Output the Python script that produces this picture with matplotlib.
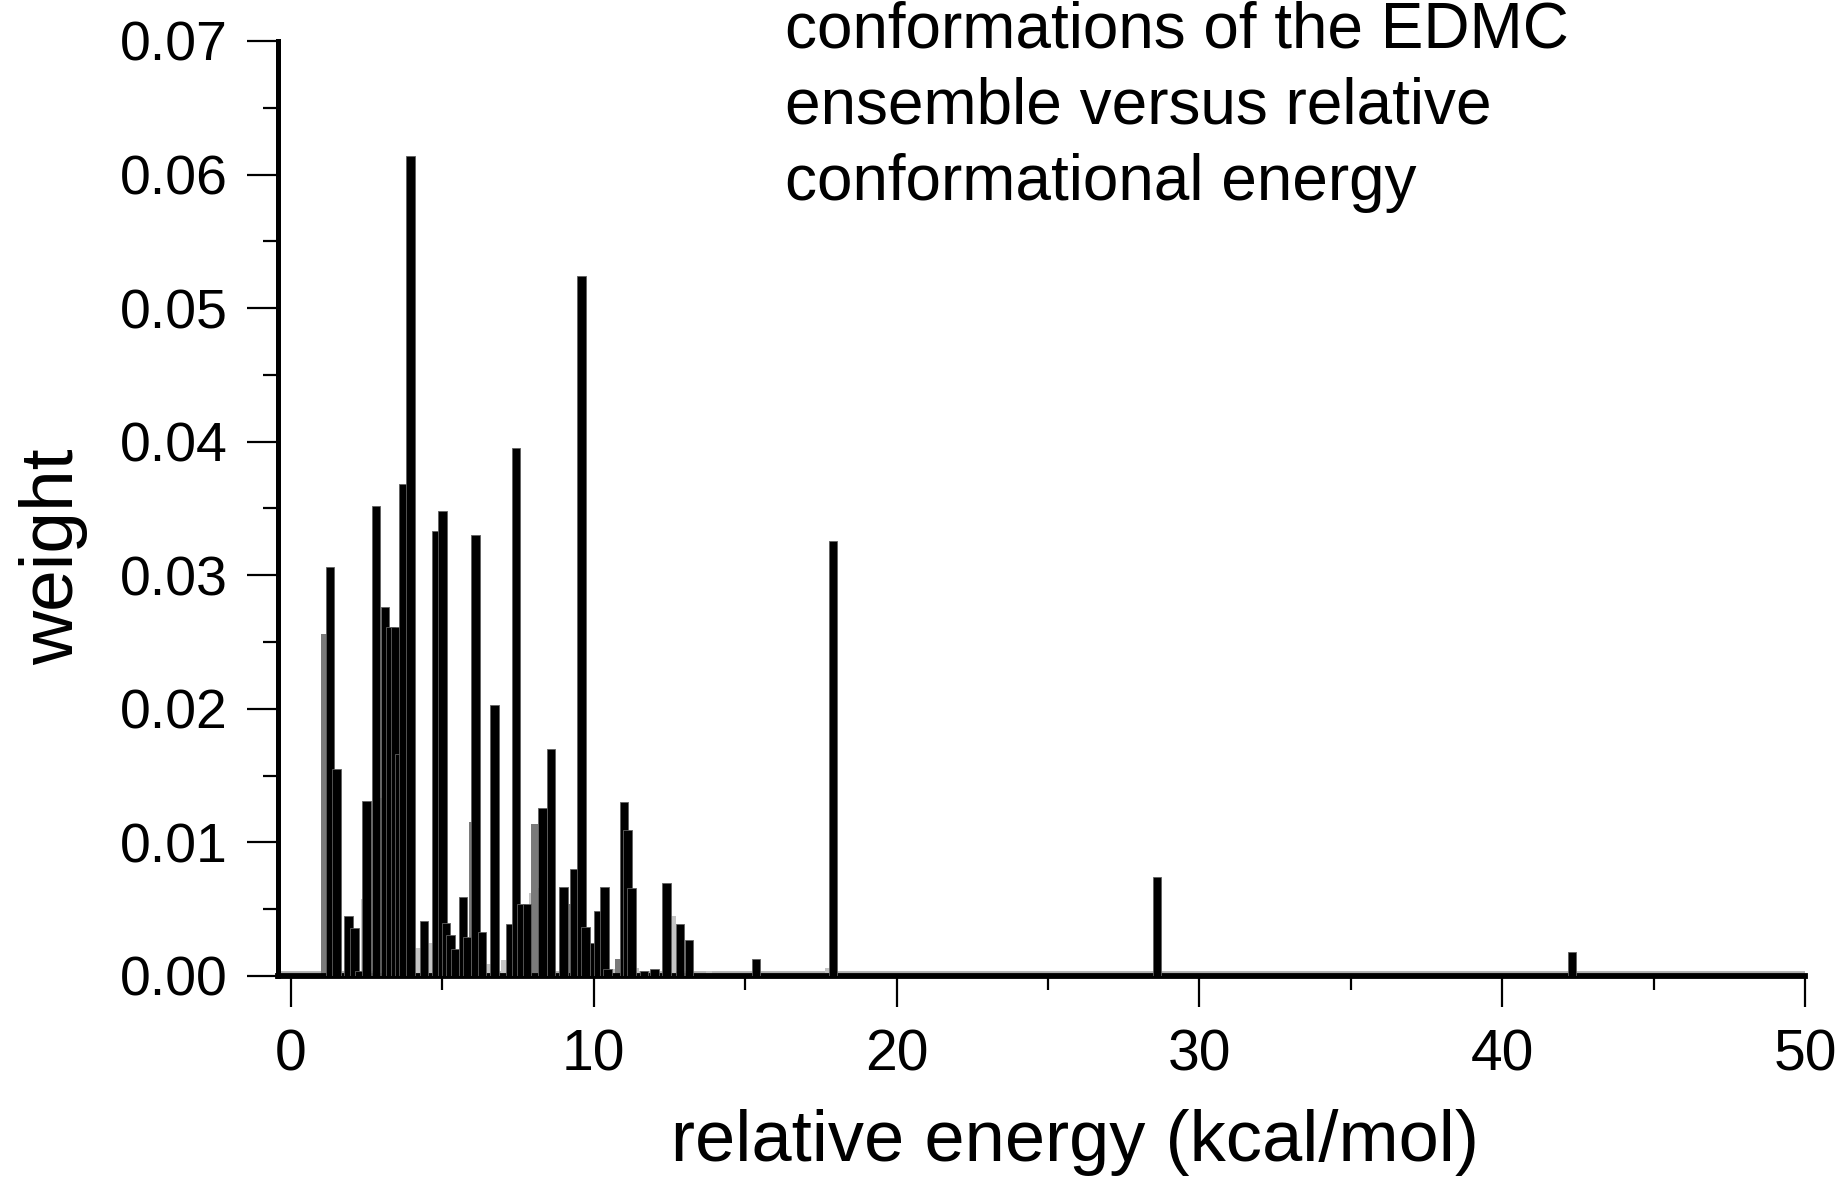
import matplotlib.pyplot as plt
from matplotlib.ticker import MultipleLocator, FormatStrFormatter

plt.rcParams['font.family'] = ['Liberation Sans', 'DejaVu Sans']

#------ data ------
# main (black) bars: relative energy (kcal/mol) and weight
energy_black = [1.29, 1.50, 1.90, 2.10, 2.25, 2.50, 2.80, 3.10, 3.28, 3.45,
                3.58, 3.72, 3.95, 4.40, 4.78, 5.00, 5.12, 5.27, 5.42, 5.68,
                5.82, 6.10, 6.30, 6.72, 7.23, 7.43, 7.60, 7.80, 8.30, 8.58,
                9.00, 9.35, 9.60, 9.72, 10.00, 10.15, 10.35, 10.45, 11.00, 11.12,
                11.25, 11.66, 12.00, 12.40, 12.85, 13.15, 15.35, 17.90, 28.60, 42.30]
weight_black = [0.0306, 0.0155, 0.0045, 0.0036, 0.0004, 0.0131, 0.0352, 0.0276, 0.0261, 0.0261,
                0.0166, 0.0368, 0.0614, 0.0041, 0.0333, 0.0348, 0.0040, 0.0031, 0.0020, 0.0059,
                0.0029, 0.0330, 0.0033, 0.0203, 0.0039, 0.0395, 0.0054, 0.0054, 0.0126, 0.0170,
                0.0067, 0.0080, 0.0524, 0.0037, 0.0025, 0.0049, 0.0067, 0.0005, 0.0130, 0.0109,
                0.0066, 0.0004, 0.0005, 0.0070, 0.0039, 0.0027, 0.0013, 0.0326, 0.0074, 0.0018]

# mid grey bars
energy_grey = [1.10, 2.95, 3.83, 4.82, 5.98, 6.75, 8.05, 8.20, 9.25, 10.80]
weight_grey = [0.0256, 0.0133, 0.0177, 0.0052, 0.0115, 0.0043, 0.0114, 0.0066, 0.0054, 0.0013]

# light grey bars near the base
energy_light = [2.42, 2.92, 3.15, 3.80, 4.20, 4.60, 4.88, 5.50, 6.55, 7.05,
                7.95, 8.45, 9.15, 9.85, 10.60, 11.40, 12.60, 13.80, 17.75]
weight_light = [0.0058, 0.0043, 0.0013, 0.0011, 0.0021, 0.0025, 0.0038, 0.0013, 0.0009, 0.0012,
                0.0062, 0.0012, 0.0011, 0.0014, 0.0005, 0.0006, 0.0045, 0.0004, 0.0006]

caption = ["conformations of the EDMC", "ensemble versus relative", "conformational energy"]

#------ figure ------
fig = plt.figure(figsize=(18.4, 11.79), dpi=100)
ax = fig.add_axes([278/1840, 1 - 976/1179, (1805 - 278)/1840, (976 - 41)/1179])

ax.bar(energy_light, weight_light, width=0.2, color='#c4c4c4', linewidth=0, zorder=1)
ax.bar(energy_grey, weight_grey, width=0.22, color='#7a7a7a', linewidth=0, zorder=2)
ax.bar(energy_black, weight_black, width=0.28, color='black', edgecolor='#606060',
       linewidth=0.6, zorder=3)

ax.set_xlim(-0.43, 50)
ax.set_ylim(0, 0.07)

for s in ['top', 'right']:
    ax.spines[s].set_visible(False)
ax.spines['left'].set_linewidth(3.6)
ax.spines['bottom'].set_linewidth(4.2)
ax.axhline(0.0003, color='#b0b0b0', lw=2, zorder=0)

ax.xaxis.set_major_locator(MultipleLocator(10))
ax.xaxis.set_minor_locator(MultipleLocator(5))
ax.yaxis.set_major_locator(MultipleLocator(0.01))
ax.yaxis.set_minor_locator(MultipleLocator(0.005))
ax.yaxis.set_major_formatter(FormatStrFormatter('%.2f'))

ax.tick_params(axis='y', which='major', direction='out', length=22, width=1.6,
               labelsize=40, pad=14)
ax.tick_params(axis='y', which='minor', direction='out', length=11, width=1.6)
ax.tick_params(axis='x', which='major', direction='out', length=22, width=1.6,
               labelsize=41, pad=16)
ax.tick_params(axis='x', which='minor', direction='out', length=10, width=1.6)

fig.text(54/1840, 1 - 557/1179, "weight", rotation=90, fontsize=54,
         ha='center', va='center')
fig.text(1075/1840, 1 - 1143/1179, "relative energy (kcal/mol)", fontsize=52,
         ha='center', va='center')

for i, line in enumerate(caption):
    fig.text(785/1840, 1 - (47 + 76.5*i)/1179, line, fontsize=46,
             ha='left', va='baseline')

fig.savefig('out.png', dpi=100)
